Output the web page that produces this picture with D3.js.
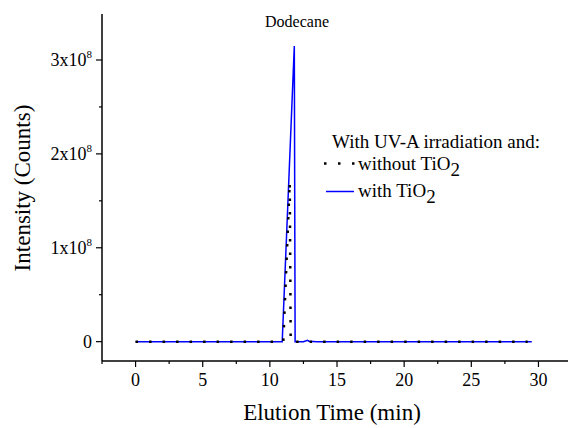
<!DOCTYPE html>
<html>
<head>
<meta charset="utf-8">
<script src="https://cdn.jsdelivr.net/npm/d3@7"></script>
<style>
  body { margin: 0; background: #fff; }
  svg text { font-family: "Liberation Serif", "Times New Roman", serif; fill: #000; }
</style>
</head>
<body>
<div id="chart"></div>
<script>
// elution time (min) and intensity (counts)
var timeWithout = [0, 1, 2, 3, 4, 5, 6, 7, 8, 9, 10, 11.0, 11.48, 11.55, 12, 13, 14, 15, 16, 17, 18, 19, 20, 21, 22, 23, 24, 25, 26, 27, 28, 29.2];
var countsWithout = [0, 0, 0, 0, 0, 0, 0, 0, 0, 0, 0, 0, 1.7e8, 0, 0, 0, 0, 0, 0, 0, 0, 0, 0, 0, 0, 0, 0, 0, 0, 0, 0, 0];

var timeWith = [0, 5, 10, 10.92, 11.82, 11.88, 12.5, 12.8, 12.9, 13.5, 20, 29.5];
var countsWith = [0, 0, 0, 0, 3.15e8, 0, 0, 0.015e8, 0.005e8, 0, 0, 0];

var xTicks = [0, 5, 10, 15, 20, 25, 30];
var yTicks = [0, 1, 2, 3]; // multiples of 10^8

var width = 570, height = 428;

var svg = d3.select('#chart')
  .append('svg')
  .attr('width', width)
  .attr('height', height);

var x = d3.scaleLinear().domain([-2.5, 32.2]).range([102, 568]);
var y = d3.scaleLinear().domain([-0.206e8, 3.49e8]).range([361, 14]);

// minor ticks
var xMinor = d3.range(-2.5, 32.2, 2.5).filter(d => xTicks.indexOf(d) < 0);
var yMinor = d3.range(0.5, 3.5, 1);

// x axis
var xAxis = svg.append('g').attr('transform', 'translate(0,361)');
xAxis.append('line').attr('x1', 102).attr('x2', 568).attr('stroke', '#000').attr('stroke-width', 1.5);
xAxis.selectAll('.maj').data(xTicks).enter().append('line')
  .attr('x1', d => x(d)).attr('x2', d => x(d)).attr('y1', 0).attr('y2', 6)
  .attr('stroke', '#000').attr('stroke-width', 1.2);
xAxis.selectAll('.min').data(xMinor).enter().append('line')
  .attr('x1', d => x(d)).attr('x2', d => x(d)).attr('y1', 0).attr('y2', 3)
  .attr('stroke', '#000').attr('stroke-width', 1.2);
xAxis.selectAll('text').data(xTicks).enter().append('text')
  .attr('x', d => x(d)).attr('y', 25)
  .attr('text-anchor', 'middle').attr('font-size', 18)
  .text(d => d);

// y axis
var yAxis = svg.append('g').attr('transform', 'translate(102,0)');
yAxis.append('line').attr('y1', 14).attr('y2', 361).attr('stroke', '#000').attr('stroke-width', 1.5);
yAxis.selectAll('.maj').data(yTicks).enter().append('line')
  .attr('y1', d => y(d * 1e8)).attr('y2', d => y(d * 1e8)).attr('x1', 0).attr('x2', -6)
  .attr('stroke', '#000').attr('stroke-width', 1.2);
yAxis.selectAll('.min').data(yMinor).enter().append('line')
  .attr('y1', d => y(d * 1e8)).attr('y2', d => y(d * 1e8)).attr('x1', 0).attr('x2', -3)
  .attr('stroke', '#000').attr('stroke-width', 1.2);
var yLab = yAxis.selectAll('text').data(yTicks).enter().append('text')
  .attr('x', -10).attr('y', d => y(d * 1e8) + 6)
  .attr('text-anchor', 'end').attr('font-size', 18);
yLab.each(function(d) {
  var t = d3.select(this);
  if (d === 0) { t.text('0'); return; }
  t.append('tspan').text(d + 'x10');
  t.append('tspan').attr('dy', -8).attr('font-size', 11).text('8');
});

// axis titles
svg.append('text').attr('x', 332).attr('y', 420)
  .attr('text-anchor', 'middle').attr('font-size', 23)
  .text('Elution Time (min)');
svg.append('text').attr('transform', 'translate(30,188) rotate(-90)')
  .attr('text-anchor', 'middle').attr('font-size', 23)
  .text('Intensity (Counts)');

// series
var line = d3.line().x(d => x(d[0])).y(d => y(d[1]));

svg.append('path')
  .datum(timeWith.map((t, i) => [t, countsWith[i]]))
  .attr('d', line).attr('fill', 'none')
  .attr('stroke', '#0000ff').attr('stroke-width', 1.5);

svg.append('path')
  .datum(timeWithout.map((t, i) => [t, countsWithout[i]]))
  .attr('d', line).attr('fill', 'none')
  .attr('stroke', '#000').attr('stroke-width', 2.5)
  .attr('stroke-dasharray', '2.5,11');

// peak label
svg.append('text').attr('x', 297).attr('y', 27)
  .attr('text-anchor', 'middle').attr('font-size', 16)
  .text('Dodecane');

// legend
var leg = svg.append('g');
leg.append('text').attr('x', 332).attr('y', 148).attr('font-size', 19)
  .text('With UV-A irradiation and:');
leg.append('line').attr('x1', 324).attr('x2', 356).attr('y1', 163.5).attr('y2', 163.5)
  .attr('stroke', '#000').attr('stroke-width', 2.5).attr('stroke-dasharray', '2.5,11.5');
var t1 = leg.append('text').attr('x', 358).attr('y', 170).attr('font-size', 19);
t1.append('tspan').text('without TiO');
t1.append('tspan').attr('dy', 6).text('2');
leg.append('line').attr('x1', 326).attr('x2', 354).attr('y1', 191.5).attr('y2', 191.5)
  .attr('stroke', '#0000ff').attr('stroke-width', 1.5);
var t2 = leg.append('text').attr('x', 358).attr('y', 197).attr('font-size', 19);
t2.append('tspan').text('with TiO');
t2.append('tspan').attr('dy', 6).text('2');
</script>
</body>
</html>
